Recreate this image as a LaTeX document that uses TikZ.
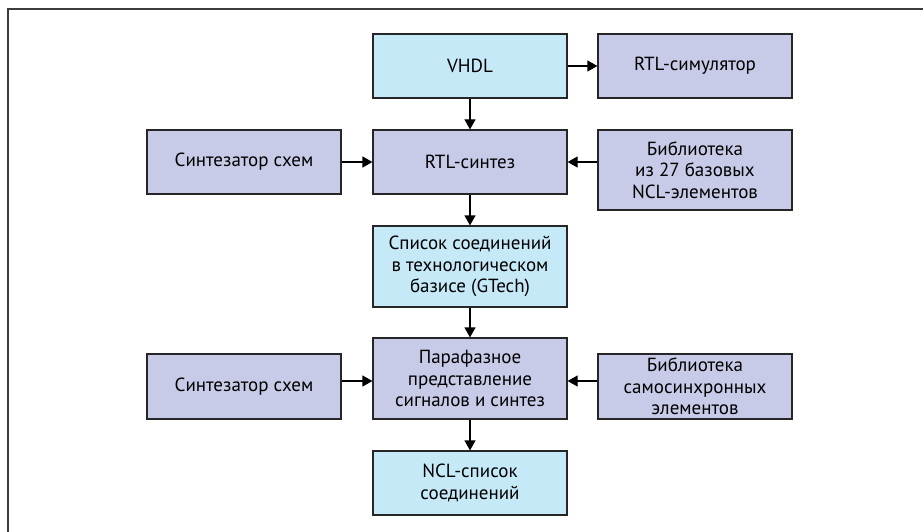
\documentclass[tikz,border=0pt]{standalone}
\usepackage{fontspec}
\setmainfont{PT Sans}
\usetikzlibrary{arrows.meta}
\definecolor{lblue}{RGB}{198,233,248}
\definecolor{lav}{RGB}{200,203,232}
\definecolor{framec}{RGB}{60,60,60}
\tikzset{
  box/.style={draw=black!85, line width=1.2pt, minimum width=194pt, inner sep=0pt, align=center,
    font=\fontsize{19}{21.5}\selectfont},
  bluebox/.style={box, fill=lblue},
  lavbox/.style={box, fill=lav},
  arr/.style={line width=1.2pt, -{Triangle[length=10pt,width=11pt]}}
}
\begin{document}
\begin{tikzpicture}[x=1pt,y=-1pt]
\useasboundingbox (0,0) rectangle (923,532);
\fill[white] (0,0) rectangle (923,532);
\draw[framec, line width=2.2pt] (940,9) -- (8,9) -- (8,550);
% row 1
\node[bluebox, minimum height=64pt] (vhdl) at (470,66) {VHDL};
\node[lavbox, minimum height=64pt] (sim) at (695,66) {RTL-симулятор};
% row 2
\node[lavbox, minimum height=64pt] (synth1) at (244,162) {Синтезатор схем};
\node[lavbox, minimum height=80pt] (lib1) at (695,170) {Библиотека\\из 27 базовых\\NCL-элементов};
\node[lavbox, minimum height=64pt] (rtl) at (470,162) {RTL-синтез};
% row 3
\node[bluebox, minimum height=81pt] (net) at (470,266.5) {Список соединений\\в технологическом\\базисе (GTech)};
% row 4
\node[lavbox, minimum height=65pt] (synth2) at (244,386.5) {Синтезатор схем};
\node[lavbox, minimum height=81pt] (para) at (470,378.5) {Парафазное\\представление\\сигналов и синтез};
\node[lavbox, minimum height=65pt] (lib2) at (695,386.5) {Библиотека\\самосинхронных\\элементов};
% row 5
\node[bluebox, minimum height=64pt] (ncl) at (470,483) {NCL-список\\соединений};
% connectors
\draw[arr] (vhdl) -- (sim);
\draw[arr] (vhdl) -- (rtl);
\draw[arr] (synth1) -- (rtl);
\draw[arr] (lib1.west |- rtl) -- (rtl);
\draw[arr] (rtl) -- (net);
\draw[arr] (net) -- (para);
\draw[arr] (synth2.east |- 0,381) -- (para.west |- 0,381);
\draw[arr] (lib2.west |- 0,381) -- (para.east |- 0,381);
\draw[arr] (para) -- (ncl);
\end{tikzpicture}
\end{document}
